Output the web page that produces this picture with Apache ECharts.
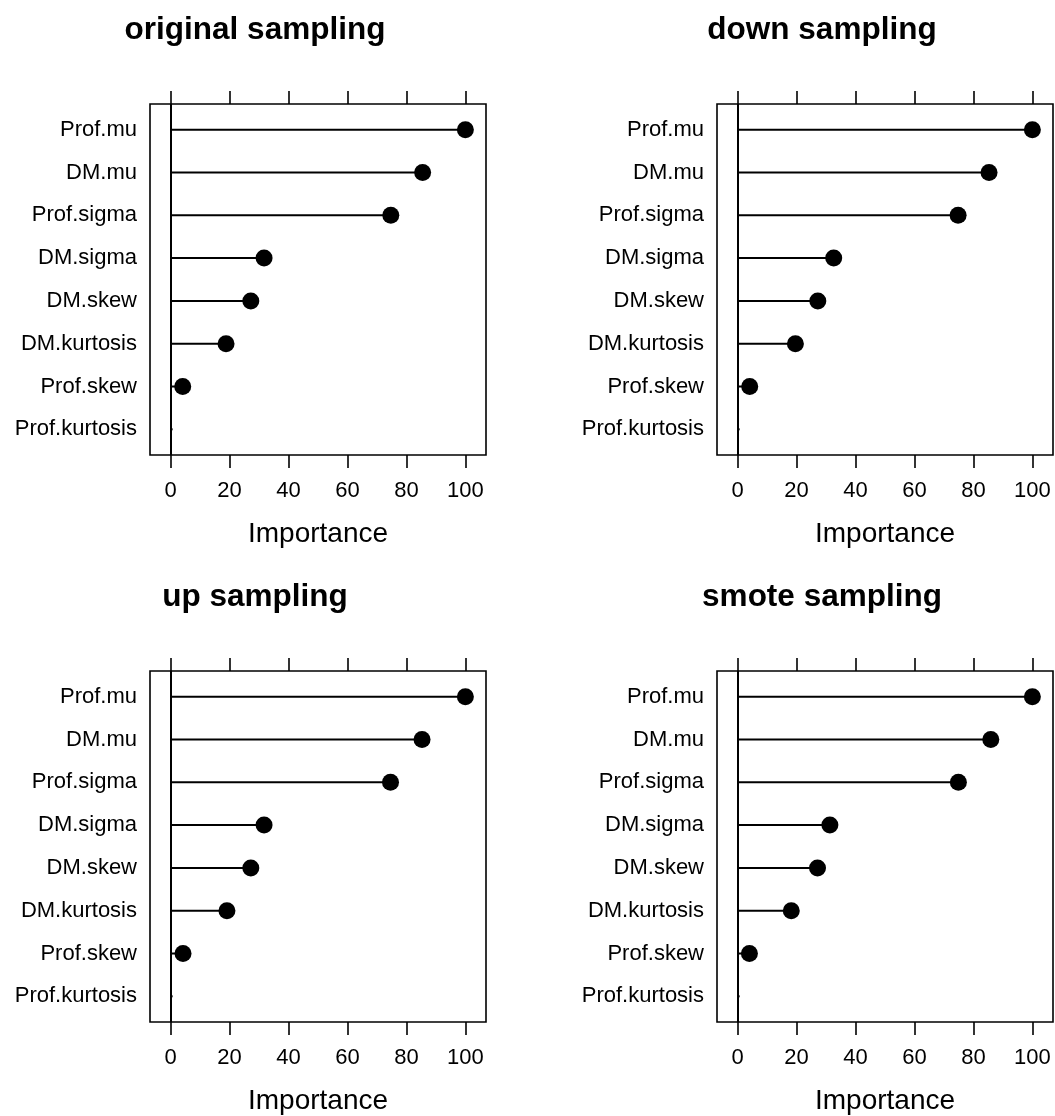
<!DOCTYPE html>
<html>
<head>
<meta charset="utf-8">
<script src="https://cdn.jsdelivr.net/npm/echarts@6/dist/echarts.min.js"></script>
<style>
html,body{margin:0;padding:0;background:#fff;}
#chart{width:1055px;height:1116px;}
</style>
</head>
<body>
<div id="chart"></div>
<script>
const categories = ['Prof.mu','DM.mu','Prof.sigma','DM.sigma','DM.skew','DM.kurtosis','Prof.skew','Prof.kurtosis'];
const originalValues = [100, 85.5, 74.7, 31.7, 27.2, 18.8, 4.1, 0];
const downValues = [100, 85.3, 74.8, 32.6, 27.2, 19.6, 4.1, 0];
const upValues = [100, 85.3, 74.6, 31.7, 27.2, 19.1, 4.2, 0];
const smoteValues = [100, 85.9, 74.9, 31.3, 27.1, 18.2, 4.0, 0];
const panelTitles = ['original sampling', 'down sampling', 'up sampling', 'smote sampling'];
const xTicks = [0, 20, 40, 60, 80, 100];
const xAxisName = 'Importance';

const panelValues = [originalValues, downValues, upValues, smoteValues];
const FONT = '"Liberation Sans", Arial, Helvetica, sans-serif';
const lefts = [150, 717];
const tops = [104, 671];
const W = 336, H = 351;

const option = {
  backgroundColor: '#fff',
  animation: false,
  grid: [], xAxis: [], yAxis: [], series: [], graphic: []
};

panelValues.forEach((vals, p) => {
  const left = lefts[p % 2];
  const top = tops[Math.floor(p / 2)];
  option.grid.push({
    left: left, top: top, width: W, height: H,
    show: true, borderColor: '#000', borderWidth: 1.6, backgroundColor: 'transparent'
  });
  option.xAxis.push({
    type: 'value', gridIndex: p, position: 'bottom', min: -7, max: 107,
    axisLine: { show: false },
    axisTick: { show: true, customValues: xTicks, length: 13, inside: false, lineStyle: { color: '#000', width: 1.6 } },
    axisLabel: { customValues: xTicks, margin: 25, fontSize: 22, color: '#000', fontFamily: FONT },
    splitLine: { show: false },
    name: xAxisName, nameLocation: 'middle', nameGap: 65,
    nameTextStyle: { fontSize: 28, color: '#000', fontFamily: FONT }
  });
  option.xAxis.push({
    type: 'value', gridIndex: p, position: 'top', min: -7, max: 107,
    axisLine: { show: false },
    axisTick: { show: true, customValues: xTicks, length: 13, inside: false, lineStyle: { color: '#000', width: 1.6 } },
    axisLabel: { show: false },
    splitLine: { show: false }
  });
  option.yAxis.push({
    type: 'value', gridIndex: p, min: 0.4, max: 8.6, inverse: true,
    axisLine: { show: false }, axisTick: { show: false }, splitLine: { show: false },
    axisLabel: {
      customValues: categories.map((c, i) => i + 1),
      formatter: v => categories[Math.round(v) - 1] || '',
      fontSize: 22, margin: 13, color: '#000', fontFamily: FONT
    }
  });
  const data = vals.map((v, i) => [v, i + 1]);
  option.series.push({
    type: 'custom', xAxisIndex: 2 * p, yAxisIndex: p, data: data, silent: true, z: 3,
    renderItem: (params, api) => {
      const a = api.coord([0, api.value(1)]);
      const b = api.coord([api.value(0), api.value(1)]);
      return { type: 'line', shape: { x1: a[0], y1: a[1], x2: b[0] + (api.value(0) === 0 ? 2 : 0), y2: b[1] },
               style: { stroke: '#000', lineWidth: 2 } };
    }
  });
  option.series.push({
    type: 'scatter', xAxisIndex: 2 * p, yAxisIndex: p, data: data, silent: true, z: 5,
    symbol: 'circle', symbolSize: v => (v[0] === 0 ? 0 : 17),
    itemStyle: { color: '#000', opacity: 1 },
    markLine: {
      silent: true, symbol: 'none', label: { show: false },
      lineStyle: { color: '#000', width: 2, type: 'solid', opacity: 1 },
      data: [{ xAxis: 0 }]
    }
  });
  option.graphic.push({
    type: 'text', x: left + 105, y: top - 74,
    style: { text: panelTitles[p], fill: '#000',
             font: 'bold 31.5px ' + FONT, textAlign: 'center', textVerticalAlign: 'middle' }
  });
});

const chart = echarts.init(document.getElementById('chart'), null, { renderer: 'canvas' });
chart.setOption(option);
</script>
</body>
</html>
